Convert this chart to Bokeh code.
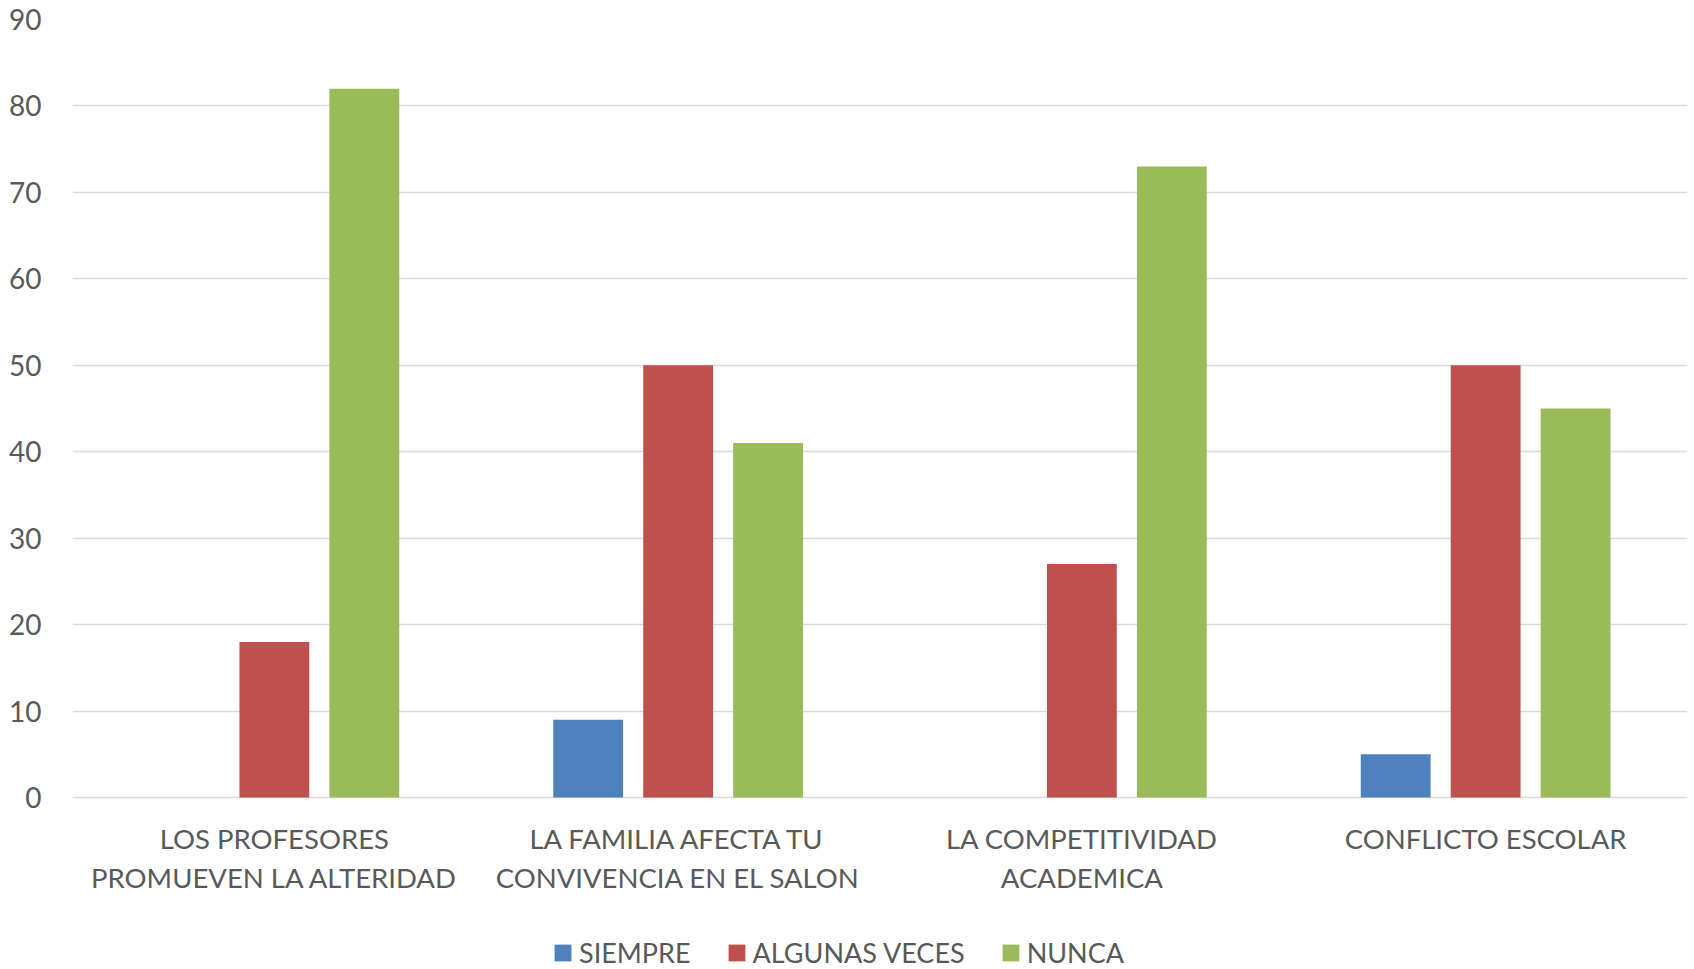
from bokeh.plotting import figure
from bokeh.models import ColumnDataSource, FactorRange, Range1d, Legend, LegendItem, FixedTicker
from bokeh.transform import dodge
from bokeh.core.properties import value
from bokeh.embed import file_html
from bokeh.resources import INLINE

categories = ["LOS PROFESORES PROMUEVEN LA ALTERIDAD",
              "LA FAMILIA AFECTA TU CONVIVENCIA EN EL SALON",
              "LA COMPETITIVIDAD ACADEMICA",
              "CONFLICTO ESCOLAR"]
label_line1 = ["LOS PROFESORES", "LA FAMILIA AFECTA TU", "LA COMPETITIVIDAD", "CONFLICTO ESCOLAR"]
label_line2 = ["PROMUEVEN LA ALTERIDAD", "CONVIVENCIA EN EL SALON", "ACADEMICA", ""]
series_names = ["SIEMPRE", "ALGUNAS VECES", "NUNCA"]
siempre = [0, 9, 0, 5]
algunas_veces = [18, 50, 27, 50]
nunca = [82, 41, 73, 45]
y_ticks = [0, 10, 20, 30, 40, 50, 60, 70, 80, 90]
colors = ["#4F81BD", "#C0504D", "#9BBB59"]

FONT = "Lato"
TXT = "#595959"
FS = "27px"

# layout (pixels)
TOP = 19            # frame top inside figure
ZERO = 797          # y pixel of value 0 inside figure
H = 969
W = 1694
px_per_unit = (ZERO - TOP) / 90.0
y_start = -(H - ZERO) / px_per_unit

src = ColumnDataSource(dict(cat=categories, s=siempre, a=algunas_veces, n=nunca,
                            l1=label_line1, l2=label_line2))

p = figure(x_range=FactorRange(*categories), y_range=Range1d(y_start, 90),
           width=W, height=H,
           output_backend="svg", toolbar_location=None,
           min_border_left=72, min_border_top=TOP, min_border_right=7, min_border_bottom=0)
p.outline_line_color = None
p.xaxis.visible = False

off = 0.2228
bw = 0.173
r1 = p.vbar(x=dodge("cat", -off, range=p.x_range), top="s", width=bw, source=src,
            fill_color=colors[0], line_color=None)
r2 = p.vbar(x=dodge("cat", 0.0, range=p.x_range), top="a", width=bw, source=src,
            fill_color=colors[1], line_color=None)
r3 = p.vbar(x=dodge("cat", off, range=p.x_range), top="n", width=bw, source=src,
            fill_color=colors[2], line_color=None)

# category labels under the baseline
p.text(x="cat", y=-41 / px_per_unit, text="l1", source=src,
       text_font=value(FONT), text_font_size="27.5px", text_color=TXT,
       text_align="center", text_baseline="alphabetic")
p.text(x="cat", y=-79.5 / px_per_unit, text="l2", source=src,
       text_font=value(FONT), text_font_size="27.5px", text_color=TXT,
       text_align="center", text_baseline="alphabetic")

p.xgrid.grid_line_color = None
ticker = FixedTicker(ticks=y_ticks)
p.yaxis.ticker = ticker
p.ygrid.ticker = ticker
p.ygrid.grid_line_color = "#D9D9D9"
p.ygrid.grid_line_width = 1.5

ax = p.yaxis[0]
ax.major_tick_line_color = None
ax.minor_tick_line_color = None
ax.axis_line_color = None
ax.major_label_text_font = FONT
ax.major_label_text_font_size = "28px"
ax.major_label_text_color = TXT
ax.major_label_standoff = 25

legend = Legend(items=[LegendItem(label=series_names[0], renderers=[r1]),
                       LegendItem(label=series_names[1], renderers=[r2]),
                       LegendItem(label=series_names[2], renderers=[r3])],
                orientation="horizontal", location=(480, 0),
                label_text_font=FONT, label_text_font_size=FS, label_text_color=TXT,
                glyph_width=21, glyph_height=21, label_standoff=6, spacing=35,
                padding=0, margin=0, border_line_color=None, background_fill_alpha=0)
p.add_layout(legend, "center")

open("out.html", "w").write(file_html(p, INLINE))
